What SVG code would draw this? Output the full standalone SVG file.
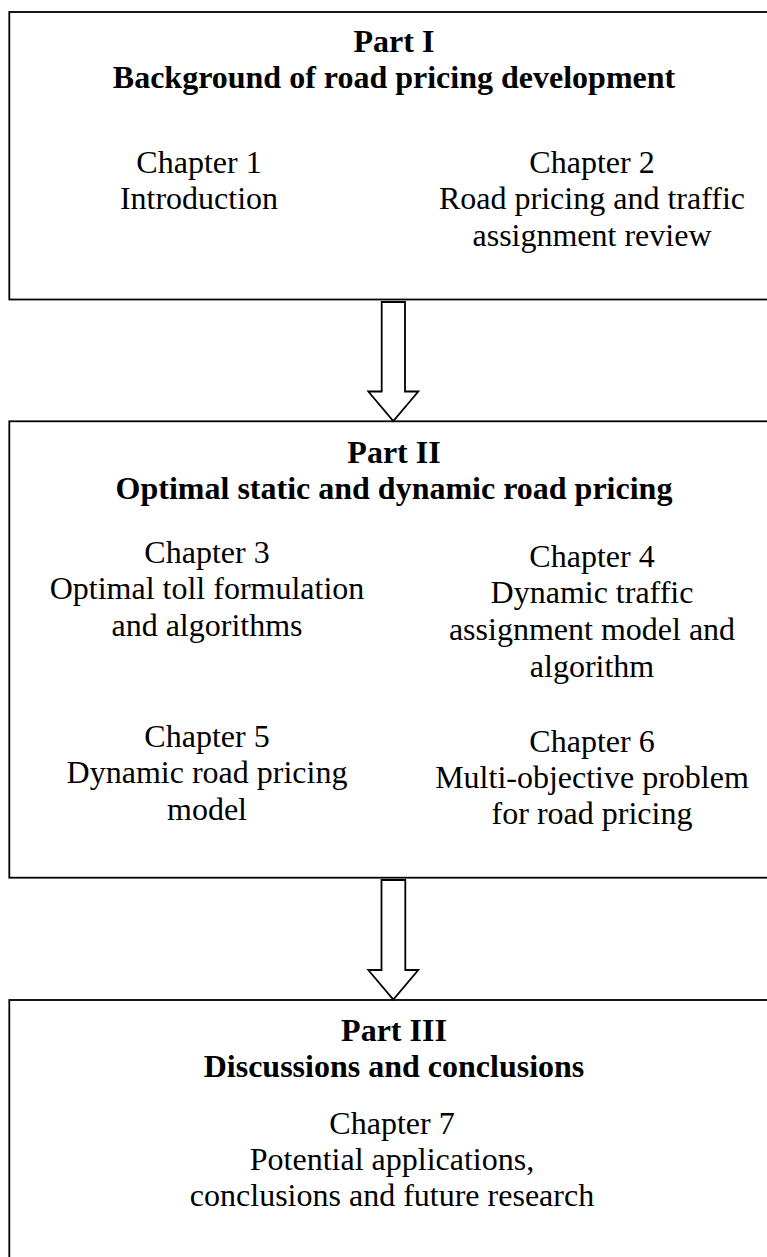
<svg xmlns="http://www.w3.org/2000/svg" width="767" height="1257" viewBox="0 0 767 1257">
  <style>
    .box { fill: #ffffff; stroke: #000000; stroke-width: 1.8; }
    .arrow { fill: #ffffff; stroke: #000000; stroke-width: 1.8; stroke-linejoin: miter; }
    text { font-family: "Liberation Serif", "Times New Roman", serif; font-size: 32px; fill: #000000; text-anchor: middle; }
    .title { font-weight: bold; }
  </style>
  <rect x="0" y="0" width="767" height="1257" fill="#ffffff"/>

  <!-- Part I -->
  <g id="part1">
    <rect class="box" x="9.3" y="12" width="780" height="287.5"/>
    <text class="title" x="394" y="52">Part I</text>
    <text class="title" x="394" y="88">Background of road pricing development</text>
    <g id="chapter1">
      <text x="199" y="173">Chapter 1</text>
      <text x="199" y="209">Introduction</text>
    </g>
    <g id="chapter2">
      <text x="592" y="173">Chapter 2</text>
      <text x="592" y="209">Road pricing and traffic</text>
      <text x="592" y="245.5">assignment review</text>
    </g>
  </g>

  <!-- Part II -->
  <g id="part2">
    <rect class="box" x="9.3" y="421.3" width="780" height="456.4"/>
    <text class="title" x="394" y="463">Part II</text>
    <text class="title" x="394" y="499">Optimal static and dynamic road pricing</text>
    <g id="chapter3">
      <text x="207" y="563">Chapter 3</text>
      <text x="207" y="599">Optimal toll formulation</text>
      <text x="207" y="635.5">and algorithms</text>
    </g>
    <g id="chapter4">
      <text x="592" y="567">Chapter 4</text>
      <text x="592" y="603">Dynamic traffic</text>
      <text x="592" y="640">assignment model and</text>
      <text x="592" y="677">algorithm</text>
    </g>
    <g id="chapter5">
      <text x="207" y="747">Chapter 5</text>
      <text x="207" y="783">Dynamic road pricing</text>
      <text x="207" y="820">model</text>
    </g>
    <g id="chapter6">
      <text x="592" y="752">Chapter 6</text>
      <text x="592" y="788">Multi-objective problem</text>
      <text x="592" y="824">for road pricing</text>
    </g>
  </g>

  <!-- Part III -->
  <g id="part3">
    <rect class="box" x="9.3" y="1000" width="780" height="300"/>
    <text class="title" x="394" y="1041">Part III</text>
    <text class="title" x="394" y="1077">Discussions and conclusions</text>
    <g id="chapter7">
      <text x="392" y="1134">Chapter 7</text>
      <text x="392" y="1170">Potential applications,</text>
      <text x="392" y="1206">conclusions and future research</text>
    </g>
  </g>

  <!-- Connectors: hollow block arrows between parts -->
  <g id="connectors">
    <polygon class="arrow" points="381.7,302 405,302 405,391.5 418.3,391.5 393.3,421 368.3,391.5 381.7,391.5"/>
    <polygon class="arrow" points="381.5,880 405.3,880 405.3,970 418.3,970 393.3,999.5 368.3,970 381.5,970"/>
  </g>
</svg>
